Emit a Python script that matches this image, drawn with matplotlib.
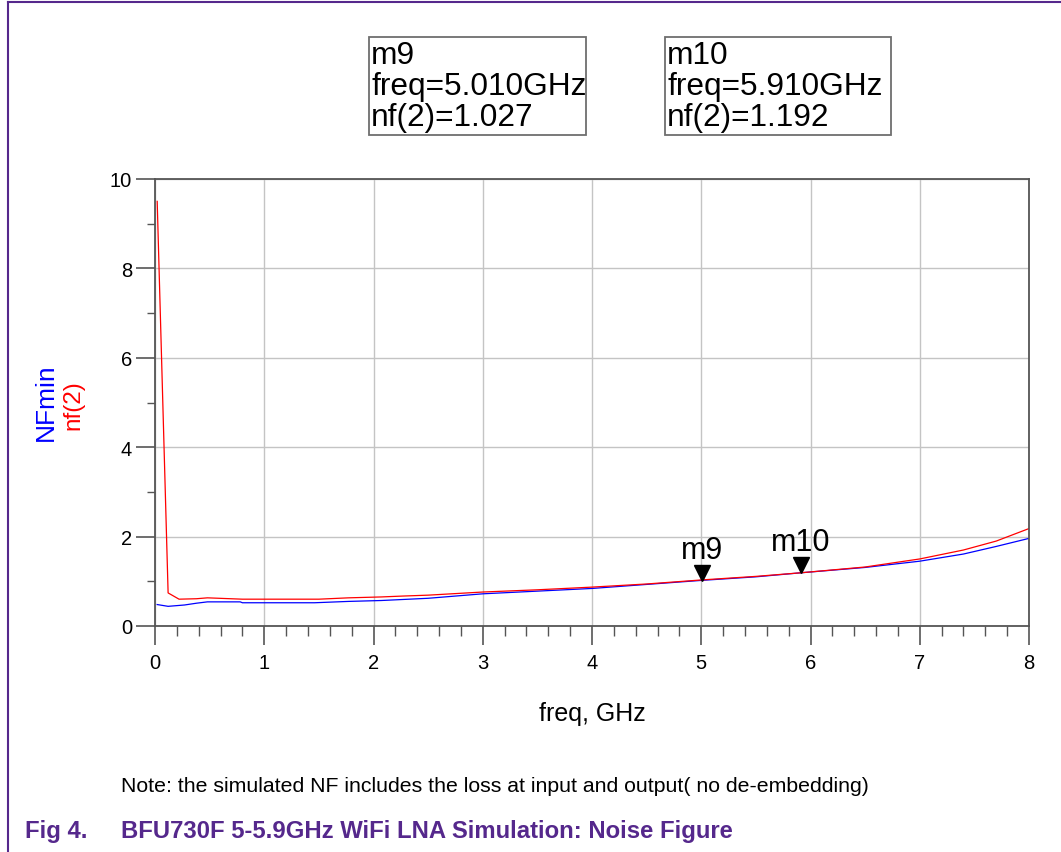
import numpy as np
import matplotlib
matplotlib.use("Agg")
import matplotlib.pyplot as plt
from matplotlib.patches import Rectangle
from matplotlib.lines import Line2D
from matplotlib.ticker import MultipleLocator

plt.rcParams.update({'font.family': ['Liberation Sans', 'DejaVu Sans']})

# ---------- data ----------
freq_nf = [0.02, 0.12, 0.22, 0.38, 0.48, 0.80, 1.50, 1.77, 2.07, 2.27, 2.50,
           3.0, 3.5, 4.0, 4.5, 5.0, 5.5, 5.91, 6.5, 7.0, 7.4, 7.7, 8.0]
nf2 = [9.5, 0.74, 0.60, 0.61, 0.63, 0.60, 0.60, 0.63, 0.65, 0.67, 0.69,
       0.76, 0.81, 0.87, 0.94, 1.03, 1.11, 1.19, 1.32, 1.50, 1.70, 1.90, 2.18]

freq_min = [0.02, 0.12, 0.27, 0.38, 0.48, 0.78, 0.80, 1.46, 1.77, 2.07, 2.50,
            3.0, 3.5, 4.0, 4.5, 5.0, 5.5, 5.91, 6.5, 7.0, 7.4, 7.7, 8.0]
nfmin = [0.48, 0.44, 0.47, 0.51, 0.54, 0.54, 0.52, 0.52, 0.55, 0.57, 0.62,
         0.72, 0.78, 0.84, 0.93, 1.02, 1.10, 1.19, 1.31, 1.45, 1.61, 1.78, 1.96]

marker_names = ['m9', 'm10']
marker_freq = [5.01, 5.91]
marker_val = [1.027, 1.192]

W, H = 1061, 853
purple = '#55288C'
spine_c = '#555555'

fig = plt.figure(figsize=(W / 100, H / 100), dpi=100)
fig.patch.set_facecolor('white')

# page frame lines
fig.add_artist(Line2D([8 / W, 1], [1 - 3 / H, 1 - 3 / H], color=purple, lw=1.5))
fig.add_artist(Line2D([8 / W, 8 / W], [0, 1 - 3 / H], color=purple, lw=1.5))

ax = fig.add_axes([155 / W, 1 - 627 / H, 874 / W, 447 / H])
ax.plot(freq_min, nfmin, color='#0000ff', lw=0.9)
ax.plot(freq_nf, nf2, color='#ff0000', lw=0.9)

ax.set_xlim(0, 8)
ax.set_ylim(0, 10)
ax.xaxis.set_major_locator(MultipleLocator(1))
ax.xaxis.set_minor_locator(MultipleLocator(0.2))
ax.yaxis.set_major_locator(MultipleLocator(2))
ax.yaxis.set_minor_locator(MultipleLocator(1))
ax.grid(True, which='major', color='#c4c4c4', lw=1.0)
ax.set_axisbelow(True)
for s in ax.spines.values():
    s.set_color(spine_c)
    s.set_linewidth(1.3)
ax.tick_params(which='major', direction='out', length=13.5, width=1.2,
               color=spine_c, labelsize=14.5, pad=3)
ax.tick_params(axis='x', which='major', pad=6)
ax.tick_params(which='minor', direction='out', length=7, width=1.0, color=spine_c)
ax.tick_params(axis='y', which='minor', length=6)

ax.set_xlabel('freq, GHz', fontsize=18, labelpad=21)

# markers on the nf(2) trace
for name, f, v in zip(marker_names, marker_freq, marker_val):
    ax.plot([f], [v], marker='v', ms=11, color='black', ls='none',
            transform=ax.transData + matplotlib.transforms.ScaledTranslation(0, 7.5 / 100, fig.dpi_scale_trans))
    ax.annotate(name, (f, v), xytext=(0, 11), textcoords='offset points',
                ha='center', va='bottom', fontsize=22)

# y labels
fig.text(46 / W, 1 - 402 / H, 'NFmin', color='#0000ff', rotation=90,
         ha='center', va='center', fontsize=19)
fig.text(73 / W, 1 - 405 / H, 'nf(2)', color='#ff0000', rotation=90,
         ha='center', va='center', fontsize=17.5)

# marker readout boxes
boxes = [(369, 586), (665, 891)]
for (x0, x1), name, f, v in zip(boxes, marker_names, marker_freq, marker_val):
    fig.add_artist(Rectangle((x0 / W, 1 - 136 / H), (x1 - x0) / W, 98 / H,
                             transform=fig.transFigure, fill=False,
                             edgecolor='#6e6e6e', lw=1.3))
    fig.text((x0 + 2) / W, 1 - 41 / H,
             '%s\nfreq=%.3fGHz\nnf(2)=%.3f' % (name, f, v),
             ha='left', va='top', fontsize=22.8, linespacing=1.04)

# notes and caption
fig.text(121 / W, 1 - 787 / H,
         'Note: the simulated NF includes the loss at input and output( no de-embedding)',
         ha='left', va='center', fontsize=15.3)
fig.text(25 / W, 1 - 832 / H, 'Fig 4.', color=purple, fontweight='bold',
         ha='left', va='center', fontsize=17.2)
fig.text(121 / W, 1 - 832 / H, 'BFU730F 5-5.9GHz WiFi LNA Simulation: Noise Figure',
         color=purple, fontweight='bold', ha='left', va='center', fontsize=17.2)

fig.savefig('out.png', dpi=100, facecolor='white')
